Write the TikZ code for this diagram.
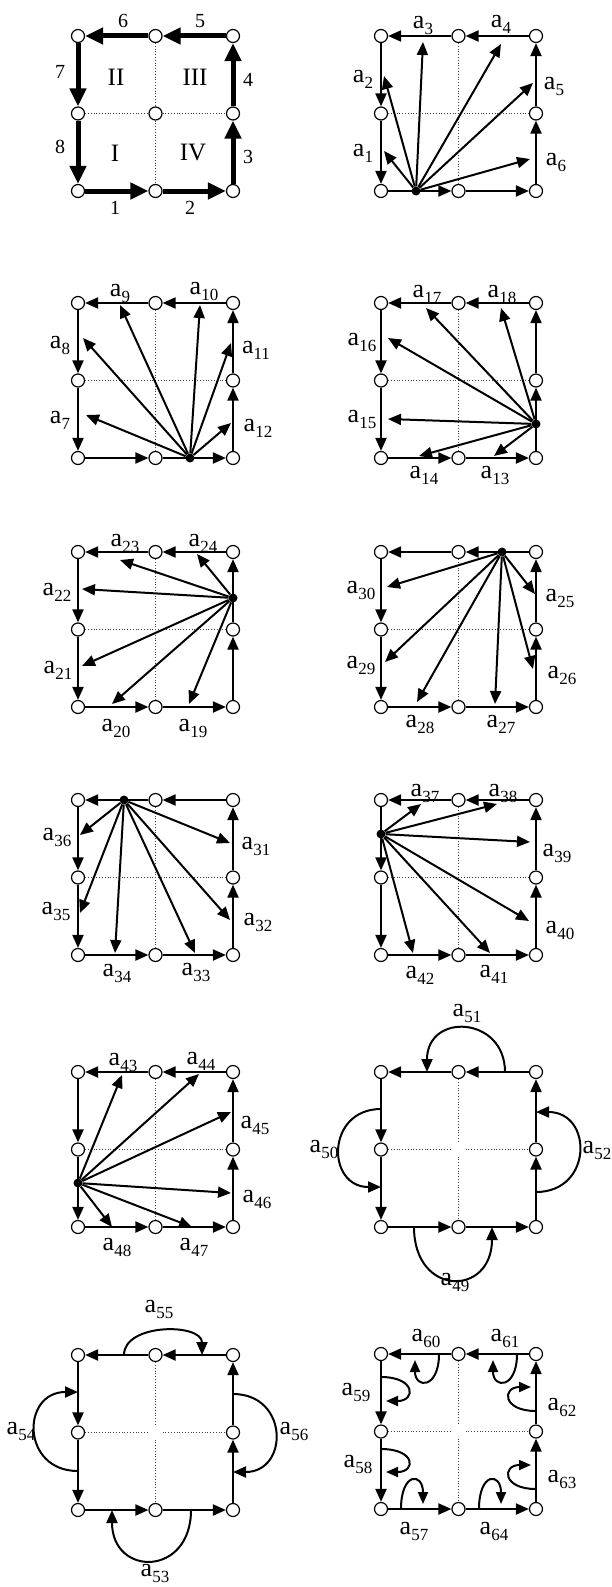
\documentclass[tikz,border=0pt]{standalone}
\usepackage{fontspec}
\setmainfont{Liberation Serif}
\usetikzlibrary{arrows.meta}
\tikzset{
 vtx/.style={circle,draw,fill=white,line width=1.2pt,minimum size=13pt,inner sep=0pt},
 srcdot/.style={circle,fill=black,minimum size=9pt,inner sep=0pt},
 bedge/.style={line width=2pt,-{Triangle[length=13pt,width=11pt]}},
 fatedge/.style={line width=5pt,-{Triangle[length=18pt,width=16pt]}},
 ray/.style={line width=2pt,-{Triangle[length=13pt,width=11pt]}},
 loopar/.style={line width=2pt,-{Triangle[length=12pt,width=10pt]}},
 gridln/.style={dotted,line width=0.8pt,black!75},
 lab/.style={inner sep=0pt,font=\fontsize{26}{26}\selectfont},
 numlab/.style={inner sep=0pt,font=\fontsize{20}{20}\selectfont},
 romlab/.style={inner sep=0pt,font=\fontsize{25}{25}\selectfont},
}
\newcommand\asub[1]{a\raisebox{-6pt}{\fontsize{17}{17}\selectfont #1}}
\newcommand\sqframe[2]{%
  \node[vtx] (#1tl) at (0,0) {};
  \node[vtx] (#1tm) at (77.5,0) {};
  \node[vtx] (#1tr) at (155,0) {};
  \node[vtx] (#1ml) at (0,77.5) {};
  \node[vtx] (#1mr) at (155,77.5) {};
  \node[vtx] (#1bl) at (0,155) {};
  \node[vtx] (#1bm) at (77.5,155) {};
  \node[vtx] (#1br) at (155,155) {};
  \coordinate (#1c) at (77.5,77.5);
  \draw[#2] (#1bl) -- (#1bm);
  \draw[#2] (#1bm) -- (#1br);
  \draw[#2] (#1br) -- (#1mr);
  \draw[#2] (#1mr) -- (#1tr);
  \draw[#2] (#1tr) -- (#1tm);
  \draw[#2] (#1tm) -- (#1tl);
  \draw[#2] (#1tl) -- (#1ml);
  \draw[#2] (#1ml) -- (#1bl);
}
\newcommand\gridfull[1]{\draw[gridln] (#1ml) -- (#1mr) (#1tm) -- (#1bm);}
\newcommand\gridgap[1]{\draw[gridln] (#1ml) -- ([xshift=-7pt]#1c) ([xshift=7pt]#1c) -- (#1mr) (#1tm) -- ([yshift=7pt]#1c) ([yshift=-7pt]#1c) -- (#1bm);}
\begin{document}
\begin{tikzpicture}[x=1pt,y=-1pt]
\useasboundingbox (0,0) rectangle (612,1587);

% ---------- Panel 1 ----------
\begin{scope}[shift={(78,36)}]
\node[vtx] (pacc) at (77.5,77.5) {};
\sqframe{pa}{fatedge}
\draw[gridln] (paml) -- (pacc) -- (pamr) (patm) -- (pacc) -- (pabm);
\node[numlab] (pan1) at (37,172) {1};
\node[numlab] (pan2) at (112,172) {2};
\node[numlab] (pan3) at (170,121) {3};
\node[numlab] (pan4) at (170,44) {4};
\node[numlab] (pan5) at (122,-15) {5};
\node[numlab] (pan6) at (45,-15) {6};
\node[numlab] (pan7) at (-18,36) {7};
\node[numlab] (pan8) at (-18,111) {8};
\node[romlab] (par1) at (37,117) {I};
\node[romlab] (par2) at (38,41) {II};
\node[romlab] (par3) at (117,41) {III};
\node[romlab] (par4) at (115,117) {IV};
\end{scope}

% ---------- Panel 2 ----------
\begin{scope}[shift={(381,36)}]
\sqframe{pb}{bedge}
\gridfull{pb}
\node[srcdot] (pbs) at (35,155) {};
\coordinate (pb1) at (3,115);
\coordinate (pb2) at (3,40);
\coordinate (pb3) at (42,6);
\coordinate (pb4) at (120,8);
\coordinate (pb5) at (152,47);
\coordinate (pb6) at (149,123);
\foreach \i in {1,...,6} \draw[ray] (pbs) -- (pb\i);
\node[lab] (pbl1) at (-18,117) {\asub{1}};
\node[lab] (pbl2) at (-18,43) {\asub{2}};
\node[lab] (pbl3) at (42,-11) {\asub{3}};
\node[lab] (pbl4) at (120,-12) {\asub{4}};
\node[lab] (pbl5) at (173,50) {\asub{5}};
\node[lab] (pbl6) at (175,126) {\asub{6}};
\end{scope}

% ---------- Panel 3 ----------
\begin{scope}[shift={(78,303)}]
\sqframe{pc}{bedge}
\gridfull{pc}
\node[srcdot] (pcs) at (112,155) {};
\coordinate (pc7) at (8,112);
\coordinate (pc8) at (5,35);
\coordinate (pc9) at (42,2);
\coordinate (pc10) at (122,2);
\coordinate (pc11) at (153,40);
\coordinate (pc12) at (153,120);
\foreach \i in {7,...,12} \draw[ray] (pcs) -- (pc\i);
\node[lab] (pcl7) at (-18,117) {\asub{7}};
\node[lab] (pcl8) at (-18,42) {\asub{8}};
\node[lab] (pcl9) at (42,-10) {\asub{9}};
\node[lab] (pcl10) at (126,-12) {\asub{10}};
\node[lab] (pcl11) at (178,47) {\asub{11}};
\node[lab] (pcl12) at (180,125) {\asub{12}};
\end{scope}

% ---------- Panel 4 ----------
\begin{scope}[shift={(381,303)}]
\sqframe{pd}{bedge}
\gridfull{pd}
\node[srcdot] (pds) at (155,121) {};
\coordinate (pd13) at (113,153);
\coordinate (pd14) at (38,153);
\coordinate (pd15) at (7,116);
\coordinate (pd16) at (7,35);
\coordinate (pd17) at (45,5);
\coordinate (pd18) at (120,5);
\foreach \i in {13,...,18} \draw[ray] (pds) -- (pd\i);
\node[lab] (pdl13) at (114,172) {\asub{13}};
\node[lab] (pdl14) at (43,172) {\asub{14}};
\node[lab] (pdl15) at (-19,116) {\asub{15}};
\node[lab] (pdl16) at (-19,39) {\asub{16}};
\node[lab] (pdl17) at (46,-9) {\asub{17}};
\node[lab] (pdl18) at (121,-9) {\asub{18}};
\end{scope}

% ---------- Panel 5 ----------
\begin{scope}[shift={(78,552)}]
\sqframe{pe}{bedge}
\gridfull{pe}
\node[srcdot] (pes) at (155,46) {};
\coordinate (pe19) at (111,152);
\coordinate (pe20) at (34,152);
\coordinate (pe21) at (4,114);
\coordinate (pe22) at (4,37);
\coordinate (pe23) at (42,8);
\coordinate (pe24) at (119,2);
\foreach \i in {19,...,24} \draw[ray] (pes) -- (pe\i);
\node[lab] (pel19) at (115,176) {\asub{19}};
\node[lab] (pel20) at (38,176) {\asub{20}};
\node[lab] (pel21) at (-20,118) {\asub{21}};
\node[lab] (pel22) at (-21,40) {\asub{22}};
\node[lab] (pel23) at (47,-9) {\asub{23}};
\node[lab] (pel24) at (125,-9) {\asub{24}};
\end{scope}

% ---------- Panel 6 ----------
\begin{scope}[shift={(381,552)}]
\sqframe{pf}{bedge}
\gridfull{pf}
\node[srcdot] (pfs) at (121,0) {};
\coordinate (pf25) at (154,42);
\coordinate (pf26) at (152,117);
\coordinate (pf27) at (114,152);
\coordinate (pf28) at (36,150);
\coordinate (pf29) at (4,110);
\coordinate (pf30) at (6,35);
\foreach \i in {25,...,30} \draw[ray] (pfs) -- (pf\i);
\node[lab] (pfl25) at (179,46) {\asub{25}};
\node[lab] (pfl26) at (181,123) {\asub{26}};
\node[lab] (pfl27) at (120,172) {\asub{27}};
\node[lab] (pfl28) at (39,172) {\asub{28}};
\node[lab] (pfl29) at (-20,113) {\asub{29}};
\node[lab] (pfl30) at (-20,38) {\asub{30}};
\end{scope}

% ---------- Panel 7 ----------
\begin{scope}[shift={(78,800)}]
\sqframe{pg}{bedge}
\gridfull{pg}
\node[srcdot] (pgs) at (46,0) {};
\coordinate (pg31) at (152,43);
\coordinate (pg32) at (152,120);
\coordinate (pg33) at (117,153);
\coordinate (pg34) at (37,153);
\coordinate (pg35) at (2,113);
\coordinate (pg36) at (2,35);
\foreach \i in {31,...,36} \draw[ray] (pgs) -- (pg\i);
\node[lab] (pgl31) at (178,46) {\asub{31}};
\node[lab] (pgl32) at (180,122) {\asub{32}};
\node[lab] (pgl33) at (118,172) {\asub{33}};
\node[lab] (pgl34) at (39,173) {\asub{34}};
\node[lab] (pgl35) at (-22,111) {\asub{35}};
\node[lab] (pgl36) at (-21,37) {\asub{36}};
\end{scope}

% ---------- Panel 8 ----------
\begin{scope}[shift={(381,800)}]
\sqframe{ph}{bedge}
\gridfull{ph}
\node[srcdot] (phs) at (0,34) {};
\coordinate (ph37) at (40,4);
\coordinate (ph38) at (116,4);
\coordinate (ph39) at (149,42);
\coordinate (ph40) at (148,121);
\coordinate (ph41) at (109,153);
\coordinate (ph42) at (32,153);
\foreach \i in {37,...,42} \draw[ray] (phs) -- (ph\i);
\node[lab] (phl37) at (44,-7) {\asub{37}};
\node[lab] (phl38) at (122,-7) {\asub{38}};
\node[lab] (phl39) at (176,53) {\asub{39}};
\node[lab] (phl40) at (179,130) {\asub{40}};
\node[lab] (phl41) at (113,174) {\asub{41}};
\node[lab] (phl42) at (39,175) {\asub{42}};
\end{scope}

% ---------- Panel 9 ----------
\begin{scope}[shift={(78,1072)}]
\sqframe{pi}{bedge}
\gridfull{pi}
\node[srcdot] (pis) at (0,111) {};
\coordinate (pi43) at (44,3);
\coordinate (pi44) at (121,2);
\coordinate (pi45) at (153,40);
\coordinate (pi46) at (153,121);
\coordinate (pi47) at (114,155);
\coordinate (pi48) at (34,155);
\foreach \i in {43,...,48} \draw[ray] (pis) -- (pi\i);
\node[lab] (pil43) at (45,-10) {\asub{43}};
\node[lab] (pil44) at (123,-11) {\asub{44}};
\node[lab] (pil45) at (177,53) {\asub{45}};
\node[lab] (pil46) at (179,127) {\asub{46}};
\node[lab] (pil47) at (116,175) {\asub{47}};
\node[lab] (pil48) at (39,175) {\asub{48}};
\end{scope}

% ---------- Panel 10 ----------
\begin{scope}[shift={(381,1072)}]
\sqframe{pj}{bedge}
\gridgap{pj}
\coordinate (pj49s) at (33,155);
\coordinate (pj49e) at (111,155);
\coordinate (pj50s) at (0,37);
\coordinate (pj50e) at (0,115);
\coordinate (pj51s) at (124,0);
\coordinate (pj51e) at (46,0);
\coordinate (pj52s) at (155,120);
\coordinate (pj52e) at (155,40);
\draw[ray] (pj49s) .. controls (33,225) and (111,225) .. (pj49e);
\draw[ray] (pj50s) .. controls (-55,37) and (-55,115) .. (pj50e);
\draw[ray] (pj51s) .. controls (124,-56) and (46,-60) .. (pj51e);
\draw[ray] (pj52s) .. controls (212,120) and (212,40) .. (pj52e);
\node[lab] (pjl49) at (74,210) {\asub{49}};
\node[lab] (pjl50) at (-57,77) {\asub{50}};
\node[lab] (pjl51) at (86,-59) {\asub{51}};
\node[lab] (pjl52) at (216,78) {\asub{52}};
\end{scope}

% ---------- Panel 11 ----------
\begin{scope}[shift={(78,1355)}]
\sqframe{pk}{bedge}
\gridgap{pk}
\coordinate (pk53s) at (113,155);
\coordinate (pk53e) at (34,155);
\coordinate (pk54s) at (0,116);
\coordinate (pk54e) at (0,37);
\coordinate (pk55s) at (46,0);
\coordinate (pk55e) at (124,0);
\coordinate (pk56s) at (155,39);
\coordinate (pk56e) at (155,117);
\draw[ray] (pk53s) .. controls (113,222) and (34,222) .. (pk53e);
\draw[ray] (pk54s) .. controls (-57,116) and (-57,37) .. (pk54e);
\draw[ray] (pk55s) .. controls (46,-32) and (124,-32) .. (pk55e);
\draw[ray] (pk56s) .. controls (211,39) and (211,117) .. (pk56e);
\node[lab] (pkl53) at (77,218) {\asub{53}};
\node[lab] (pkl54) at (-57,76) {\asub{54}};
\node[lab] (pkl55) at (81,-46) {\asub{55}};
\node[lab] (pkl56) at (216,76) {\asub{56}};
\end{scope}

% ---------- Panel 12 ----------
\begin{scope}[shift={(381,1354)}]
\sqframe{pl}{bedge}
\gridgap{pl}
\coordinate (pl57s) at (20,155);  \coordinate (pl57e) at (42,150);
\coordinate (pl58s) at (0,95);    \coordinate (pl58e) at (5,118);
\coordinate (pl59s) at (0,23);    \coordinate (pl59e) at (5,47);
\coordinate (pl60s) at (58,0);    \coordinate (pl60e) at (34,6);
\coordinate (pl61s) at (136,0);   \coordinate (pl61e) at (112,6);
\coordinate (pl62s) at (155,57);  \coordinate (pl62e) at (150,33);
\coordinate (pl63s) at (155,135); \coordinate (pl63e) at (150,111);
\coordinate (pl64s) at (98,155);  \coordinate (pl64e) at (120,150);
\draw[loopar] (pl57s) .. controls (20,118) and (42,118) .. (pl57e);
\draw[loopar] (pl58s) .. controls (35,95) and (35,118) .. (pl58e);
\draw[loopar] (pl59s) .. controls (35,23) and (35,47) .. (pl59e);
\draw[loopar] (pl60s) .. controls (58,35) and (34,35) .. (pl60e);
\draw[loopar] (pl61s) .. controls (136,35) and (112,35) .. (pl61e);
\draw[loopar] (pl62s) .. controls (121,57) and (121,33) .. (pl62e);
\draw[loopar] (pl63s) .. controls (121,135) and (121,111) .. (pl63e);
\draw[loopar] (pl64s) .. controls (98,118) and (120,118) .. (pl64e);
\node[lab] (pll57) at (33,177) {\asub{57}};
\node[lab] (pll58) at (-23,110) {\asub{58}};
\node[lab] (pll59) at (-25,38) {\asub{59}};
\node[lab] (pll60) at (45,-16) {\asub{60}};
\node[lab] (pll61) at (124,-16) {\asub{61}};
\node[lab] (pll62) at (181,53) {\asub{62}};
\node[lab] (pll63) at (181,125) {\asub{63}};
\node[lab] (pll64) at (113,177) {\asub{64}};
\end{scope}
\end{tikzpicture}
\end{document}
